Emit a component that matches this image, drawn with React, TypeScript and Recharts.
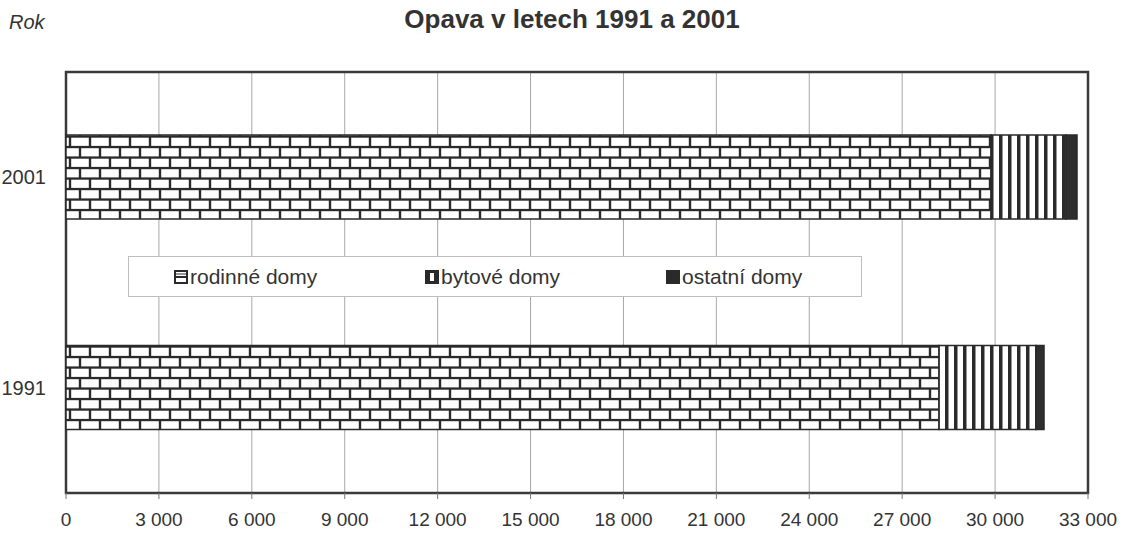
import { Bar, BarChart, CartesianGrid, ReferenceArea, XAxis, YAxis } from "recharts";

const YEARS = ["2001", "1991"];
const RODINNE = [29870, 28190];
const BYTOVE = [2420, 3130];
const OSTATNI = [355, 260];
const X_TICKS = [0, 3000, 6000, 9000, 12000, 15000, 18000, 21000, 24000, 27000, 30000, 33000];

const SERIES = [
  { key: "rodinne", label: "rodinné domy", fill: "url(#brick)" },
  { key: "bytove", label: "bytové domy", fill: "url(#stripes)" },
  { key: "ostatni", label: "ostatní domy", fill: "#2e2e2e" },
];

const data = YEARS.map((year, i) => ({
  year,
  rodinne: RODINNE[i],
  bytove: BYTOVE[i],
  ostatni: OSTATNI[i],
}));

const FONT = "Arial, 'Liberation Sans', sans-serif";
const INK = "#2a2a2a";

const fmt = (v: number) => String(v).replace(/\B(?=(\d{3})+(?!\d))/g, " ");

function LegendIcon({ kind }: { kind: string }) {
  if (kind === "rodinne") {
    return (
      <svg width={14} height={14} style={{ marginRight: 2 }}>
        <rect x={1} y={1} width={12} height={12} fill="#fff" stroke={INK} strokeWidth={2} />
        <line x1={1} y1={7} x2={13} y2={7} stroke={INK} strokeWidth={2} />
        <line x1={1} y1={4} x2={13} y2={4} stroke={INK} strokeWidth={1} />
      </svg>
    );
  }
  if (kind === "bytove") {
    return (
      <svg width={14} height={14} style={{ marginRight: 2 }}>
        <rect x={0} y={0} width={14} height={14} fill={INK} />
        <rect x={5} y={3} width={4} height={8} fill="#fff" />
      </svg>
    );
  }
  return (
    <svg width={14} height={14} style={{ marginRight: 2 }}>
      <rect x={0} y={0} width={14} height={14} fill={INK} />
    </svg>
  );
}

const LEGEND_LEFT = [45, 296, 537];

export default function App() {
  return (
    <div style={{ position: "absolute", left: 0, top: 0, width: 1124, height: 535, background: "#fff", fontFamily: FONT }}>
      <svg width={0} height={0} style={{ position: "absolute" }}>
        <defs>
          <pattern id="brick" patternUnits="userSpaceOnUse" width={20} height={21}>
            <rect x={0} y={0} width={20} height={21} fill={INK} />
            <rect x={1.2} y={1.2} width={17.6} height={8.2} fill="#fff" />
            <rect x={-8.8} y={11.7} width={17.6} height={8.2} fill="#fff" />
            <rect x={11.2} y={11.7} width={17.6} height={8.2} fill="#fff" />
          </pattern>
          <pattern id="stripes" patternUnits="userSpaceOnUse" width={9} height={10}>
            <rect x={0} y={0} width={9} height={10} fill="#fff" />
            <rect x={0} y={0} width={3.5} height={10} fill={INK} />
          </pattern>
        </defs>
      </svg>

      <div style={{ position: "absolute", left: 9, top: 11, fontSize: 20, fontStyle: "italic", color: "#333" }}>Rok</div>
      <div
        style={{
          position: "absolute",
          left: 572,
          top: 4,
          transform: "translateX(-50%)",
          fontSize: 26,
          fontWeight: "bold",
          color: "#333",
          whiteSpace: "nowrap",
        }}
      >
        Opava v letech 1991 a 2001
      </div>

      <BarChart
        layout="vertical"
        width={1124}
        height={535}
        data={data}
        margin={{ top: 72, right: 36, bottom: 10, left: 10 }}
      >
        <CartesianGrid horizontal={false} stroke="#a8a8a8" />
        <XAxis
          type="number"
          domain={[0, 33000]}
          ticks={X_TICKS}
          interval={0}
          height={32}
          tickFormatter={fmt}
          axisLine={false}
          tickLine={{ stroke: "#777" }}
          tickSize={6}
          tickMargin={14}
          tick={{ fill: "#333", fontSize: 19, fontFamily: FONT }}
        />
        <YAxis
          type="category"
          dataKey="year"
          width={56}
          axisLine={false}
          tickLine={false}
          tickSize={0}
          tickMargin={20}
          tick={{ fill: "#333", fontSize: 20, fontFamily: FONT }}
        />
        {SERIES.map((s) => (
          <Bar
            key={s.key}
            dataKey={s.key}
            stackId="a"
            barSize={84}
            fill={s.fill}
            stroke={INK}
            strokeWidth={1.5}
            isAnimationActive={false}
          />
        ))}
        <ReferenceArea x1={0} x2={33000} fill="none" fillOpacity={0} stroke="#3a3a3a" strokeWidth={2.5} ifOverflow="visible" />
      </BarChart>

      <div
        style={{
          position: "absolute",
          left: 128,
          top: 256,
          width: 734,
          height: 41,
          boxSizing: "border-box",
          border: "1px solid #bdbdbd",
          background: "#fff",
        }}
      >
        {SERIES.map((s, i) => (
          <div
            key={s.key}
            style={{
              position: "absolute",
              left: LEGEND_LEFT[i],
              top: 0,
              height: 39,
              display: "flex",
              alignItems: "center",
              fontSize: 21,
              color: "#333",
              whiteSpace: "nowrap",
            }}
          >
            <LegendIcon kind={s.key} />
            {s.label}
          </div>
        ))}
      </div>
    </div>
  );
}
